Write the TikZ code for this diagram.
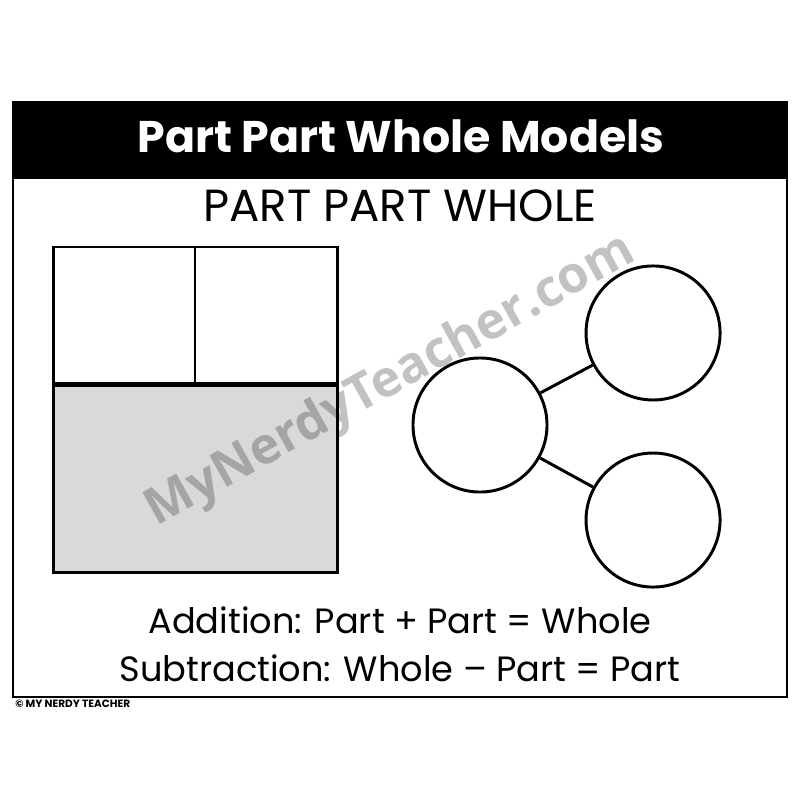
\documentclass[tikz,border=0pt]{standalone}
\usepackage{fontspec}
\setmainfont{Poppins}
\newfontfamily\markfont{Open Sans}
\usetikzlibrary{positioning}

\begin{document}
\begin{tikzpicture}[
    x=0.025cm, y=-0.025cm,
    node distance=2.3cm and 4.325cm,
    partbox/.style={draw, line width=2.1pt, inner sep=0pt},
    bubble/.style={draw, circle, fill=white, line width=2.1pt, minimum size=3.35cm, inner sep=0pt},
    label/.style={inner sep=0pt, anchor=base}
    ]

    \useasboundingbox[fill=white] (0,0) rectangle (800,800);

    % Frame and title
    \draw[line width=1.4pt] (13,102) rectangle (787,697);
    \fill[black] (13,102) rectangle (787,179);
    \node (title) [label, text=white] at (401,153) {\fontsize{31.5}{36}\selectfont\bfseries Part Part Whole Models};
    \node (heading) [label] at (400,222) {\fontsize{32}{36}\selectfont PART PART WHOLE};

    % Bar model
    \node (wholebox) [partbox, fill=black!15, minimum width=7.075cm, minimum height=4.65cm] at (195.5,479) {};
    \node (partleft) [partbox, minimum width=3.525cm, minimum height=3.4cm, anchor=south west] at (wholebox.north west) {};
    \node (partright) [partbox, minimum width=3.55cm, minimum height=3.4cm, anchor=south east] at (wholebox.north east) {};

    % Watermark
    \node (mark) [label, rotate=29, text=black, opacity=0.24] at (397,393) {\markfont\bfseries\fontsize{36}{40}\selectfont MyNerdyTeacher.com};

    % Number bond
    \node (whole) [bubble] at (480,425) {};
    \node (partone) [bubble, on grid, above right=of whole] {};
    \node (parttwo) [bubble, on grid, below right=2.375cm and 4.325cm of whole] {};

    \draw[line width=2.1pt] (whole) -- (partone);
    \draw[line width=2.1pt] (whole) -- (parttwo);

    % Sums
    \node (addition) [label] at (400,633) {\fontsize{25}{30}\selectfont Addition: Part + Part = Whole};
    \node (subtraction) [label] at (400,681) {\fontsize{25}{30}\selectfont Subtraction: Whole – Part = Part};
    \node (credit) [label, anchor=base west] at (15,707) {\fontsize{7.5}{8}\selectfont\bfseries © MY NERDY TEACHER};

  \end{tikzpicture}
\end{document}
